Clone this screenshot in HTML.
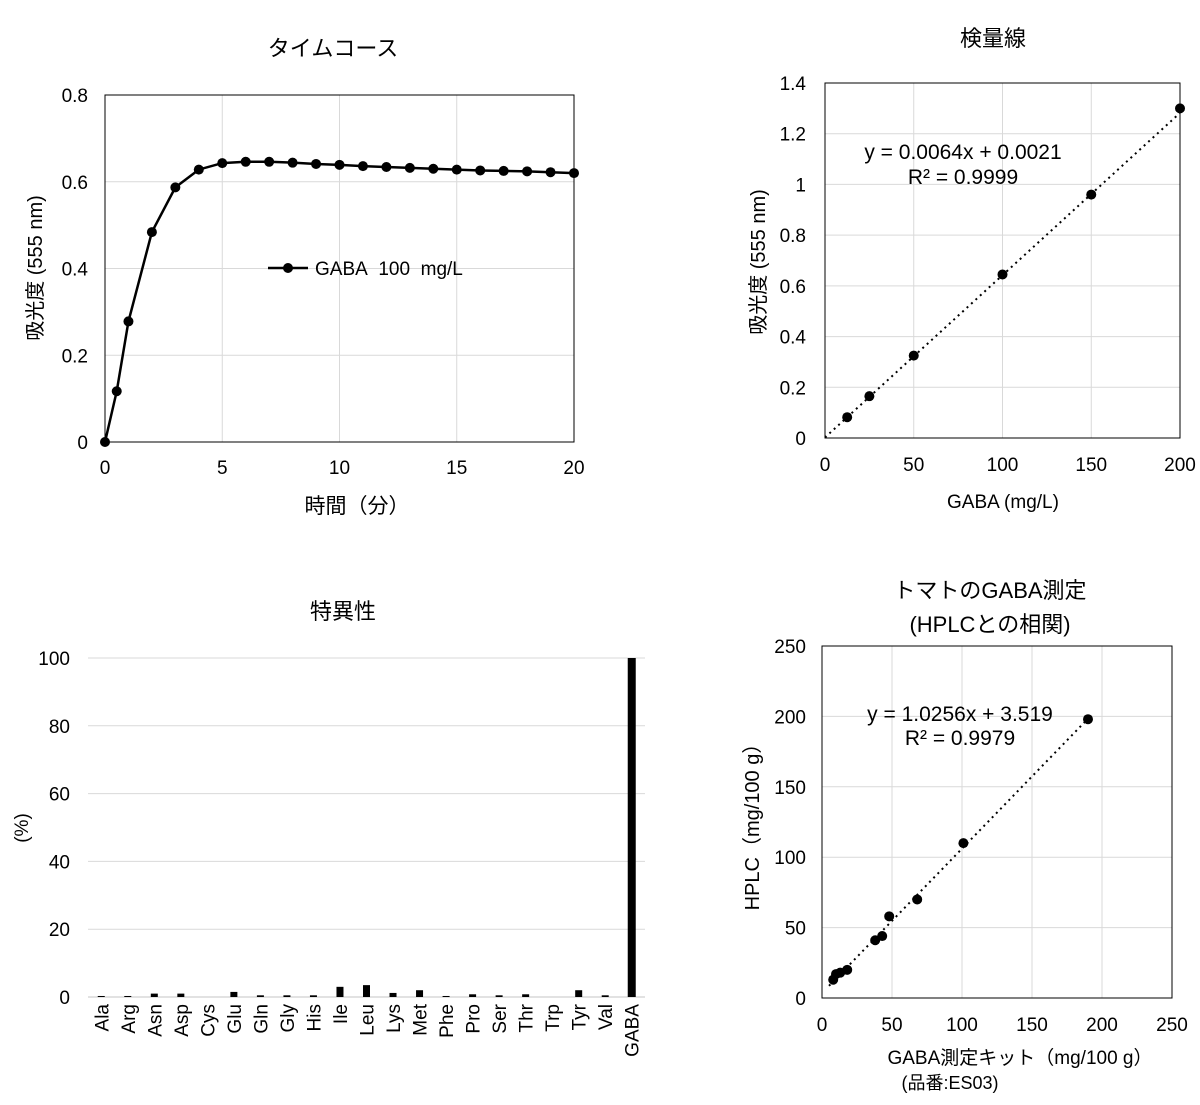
<!DOCTYPE html>
<html><head><meta charset="utf-8"><style>
body{margin:0;background:#fff;width:1200px;height:1100px;overflow:hidden}
svg{font-family:"Liberation Sans","Noto Sans CJK JP",sans-serif;}
</style></head><body>
<svg id="s" width="1200" height="1100" xmlns="http://www.w3.org/2000/svg"></svg>
<script>
const s=document.getElementById('s');let h='';
function L(x1,y1,x2,y2,c,w,d){h+=`<line x1="${x1}" y1="${y1}" x2="${x2}" y2="${y2}" stroke="${c}" stroke-width="${w||1}" ${d?`stroke-dasharray="${d}"`:''}/>`}
function T(x,y,t,sz,a,rot){h+=`<text x="${x}" y="${y}" font-size="${sz||18}" text-anchor="${a||'middle'}" ${rot?`transform="rotate(-90 ${x} ${y})"`:''} fill="#000">${t}</text>`}
function C(x,y){h+=`<circle cx="${x}" cy="${y}" r="5" fill="#000"/>`}
// Chart 1
{const x0=105,x1=574,y0=442,y1=95;const X=v=>x0+(x1-x0)*v/20,Y=v=>y0-(y0-y1)*v/0.8;
for(let v=5;v<20;v+=5)L(X(v),y1,X(v),y0,'#d9d9d9');
for(let v=0.2;v<0.8;v+=0.2)L(x0,Y(v),x1,Y(v),'#d9d9d9');
h+=`<rect x="${x0}" y="${y1}" width="${x1-x0}" height="${y0-y1}" fill="none" stroke="#000" stroke-width="1"/>`;
['0','0.2','0.4','0.6','0.8'].forEach((t,i)=>T(88,Y(i*0.2)+7,t,19,'end'));
[0,5,10,15,20].forEach(v=>T(X(v),474,v,19));
const d=[[0,0],[0.5,0.117],[1,0.278],[2,0.484],[3,0.587],[4,0.628],[5,0.643],[6,0.646],[7,0.646],[8,0.644],[9,0.641],[10,0.639],[11,0.636],[12,0.634],[13,0.632],[14,0.630],[15,0.628],[16,0.626],[17,0.625],[18,0.624],[19,0.622],[20,0.620]];
h+=`<polyline fill="none" stroke="#000" stroke-width="2.5" points="${d.map(p=>X(p[0])+','+Y(p[1])).join(' ')}"/>`;
d.forEach(p=>C(X(p[0]),Y(p[1])));
L(268,268,308,268,'#000',2.5);C(288,268);T(315,275,'GABA&#160;&#160;100&#160;&#160;mg/L',19,'start');
T(333,56,'タイムコース',22);T(357,513,'時間（分）',21);T(42,268,'吸光度 (555 nm)',20,'middle',1);}
// Chart 2
{const x0=825,x1=1180,y0=438,y1=83;const X=v=>x0+(x1-x0)*v/200,Y=v=>y0-(y0-y1)*v/1.4;
for(let v=50;v<200;v+=50)L(X(v),y1,X(v),y0,'#d9d9d9');
for(let i=1;i<7;i++)L(x0,Y(i*0.2),x1,Y(i*0.2),'#d9d9d9');
h+=`<rect x="${x0}" y="${y1}" width="${x1-x0}" height="${y0-y1}" fill="none" stroke="#000"/>`;
for(let i=0;i<=7;i++)T(806,Y(i*0.2)+7,i==0?'0':String(+(i*0.2).toFixed(1)),19,'end');
[0,50,100,150,200].forEach(v=>T(X(v),471,v,19));
L(X(0),Y(0.0021),X(200),Y(200*0.0064+0.0021),'#000',2,'2 4');
[[12.5,0.082],[25,0.165],[50,0.325],[100,0.645],[150,0.96],[200,1.3]].forEach(p=>C(X(p[0]),Y(p[1])));
T(963,159,'y = 0.0064x + 0.0021',21);T(963,184,'R² = 0.9999',21);
T(993,46,'検量線',22);T(1003,508,'GABA (mg/L)',19);T(765,262,'吸光度 (555 nm)',20,'middle',1);}
// Chart 3
{const x0=88,x1=645,y0=997,y1=658;const Y=v=>y0-(y0-y1)*v/100;
for(let v=20;v<=100;v+=20)L(x0,Y(v),x1,Y(v),'#d9d9d9');
L(x0,y0,x1,y0,'#d9d9d9',1.5);
[0,20,40,60,80,100].forEach(v=>T(70,Y(v)+7,v,19,'end'));
const n=['Ala','Arg','Asn','Asp','Cys','Glu','Gln','Gly','His','Ile','Leu','Lys','Met','Phe','Pro','Ser','Thr','Trp','Tyr','Val','GABA'];
const v=[0.3,0.3,1,1,0,1.5,0.5,0.5,0.5,3,3.5,1.2,2,0.3,0.8,0.5,0.8,0,2,0.5,100];
const w=(x1-x0)/21;
n.forEach((t,i)=>{const cx=x0+w*(i+0.5);const bw=i==20?8:7;if(v[i]>0)h+=`<rect x="${cx-bw/2}" y="${Y(v[i])}" width="${bw}" height="${y0-Y(v[i])}" fill="#000"/>`;
T(cx+7,1004,t,19,'end',1);});
T(343,619,'特異性',22);T(28,828,'(%)',19,'middle',1);}
// Chart 4
{const x0=822,x1=1172,y0=998,y1=646;const X=v=>x0+(x1-x0)*v/250,Y=v=>y0-(y0-y1)*v/250;
for(let v=50;v<250;v+=50){L(X(v),y1,X(v),y0,'#d9d9d9');L(x0,Y(v),x1,Y(v),'#d9d9d9');}
h+=`<rect x="${x0}" y="${y1}" width="${x1-x0}" height="${y0-y1}" fill="none" stroke="#000"/>`;
[0,50,100,150,200,250].forEach(v=>{T(806,Y(v)+7,v,19,'end');T(X(v),1031,v,19);});
L(X(5),Y(5*1.0256+3.519),X(190),Y(190*1.0256+3.519),'#000',2,'2 4');
[[8,13],[10,17],[13,18],[18,20],[38,41],[43,44],[48,58],[68,70],[101,110],[190,198]].forEach(p=>C(X(p[0]),Y(p[1])));
T(960,721,'y = 1.0256x + 3.519',21);T(960,745,'R² = 0.9979',21);
T(990,598,'トマトのGABA測定',22);T(990,632,'(HPLCとの相関)',22);
T(1020,1064,'GABA測定キット（mg/100 g）',19);T(950,1089,'(品番:ES03)',18);
T(759,822,'HPLC（mg/100 g）',20,'middle',1);}
s.innerHTML=h;
</script>
</body></html>
